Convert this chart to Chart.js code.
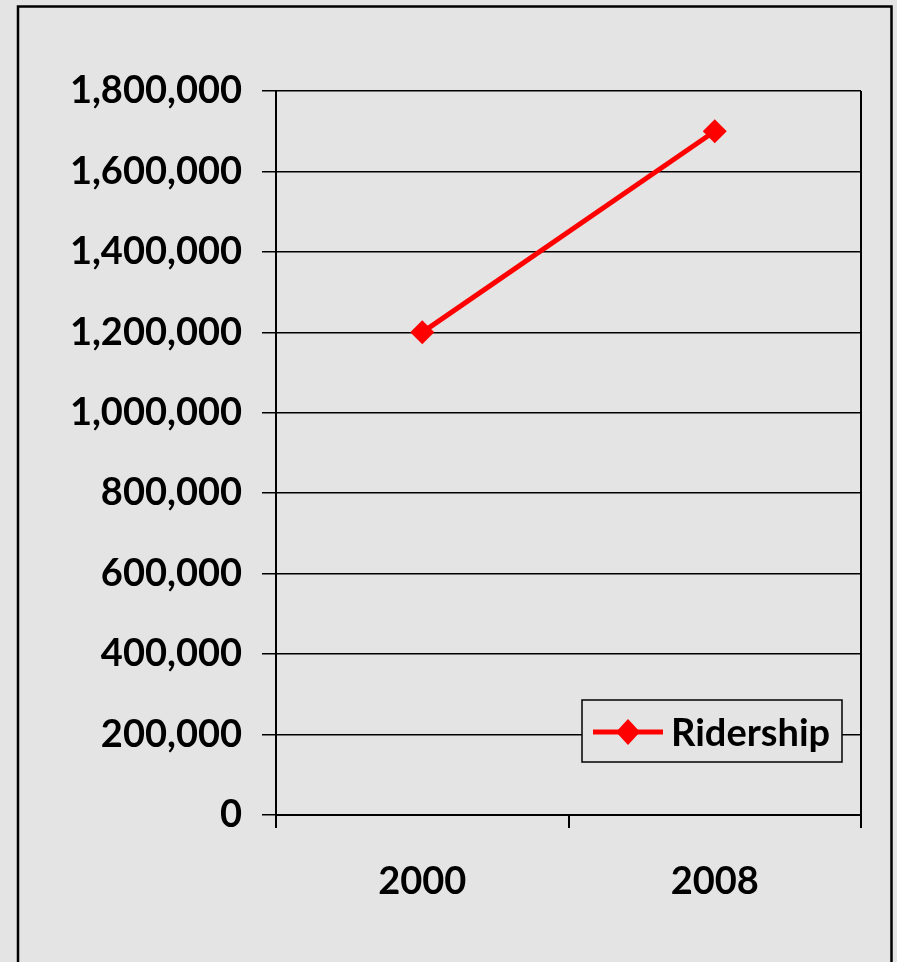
<!DOCTYPE html>
<html>
<head>
<meta charset="utf-8">
<script src="https://cdn.jsdelivr.net/npm/chart.js@4/dist/chart.umd.min.js"></script>
<style>
  html, body { margin: 0; padding: 0; background: #e4e4e4; overflow: hidden; }
  #wrap { position: absolute; left: 0; top: 0; width: 897px; height: 962px; }
</style>
</head>
<body>
<div id="wrap"><canvas id="chart-1" width="897" height="962"></canvas></div>
<script>
const years = ['2000', '2008'];
const ridership = [1200000, 1700000];
const seriesName = 'Ridership';
const yMin = 0;
const yMax = 1800000;
const yStep = 200000;

const bg = '#e4e4e4';
const fontFamily = 'Lato, "Open Sans", sans-serif';

// frame + plot right edge
const framePlugin = {
    id: 'frame',
    beforeDraw(chart) {
        const ctx = chart.ctx;
        ctx.save();
        ctx.fillStyle = bg;
        ctx.fillRect(0, 0, chart.width, chart.height);
        ctx.strokeStyle = '#000';
        ctx.lineWidth = 2.5;
        ctx.beginPath();
        ctx.moveTo(18, chart.height + 5);
        ctx.lineTo(18, 6.5);
        ctx.lineTo(891.5, 6.5);
        ctx.lineTo(891.5, chart.height + 5);
        ctx.stroke();
        ctx.restore();
    },
    afterDraw(chart) {
        const ctx = chart.ctx;
        const area = chart.chartArea;
        ctx.save();
        ctx.strokeStyle = '#000';
        ctx.lineWidth = 2;
        ctx.beginPath();
        ctx.moveTo(area.right, area.top);
        ctx.lineTo(area.right, area.bottom);
        ctx.stroke();
        ctx.restore();
    }
};

// legend box inside the plot, lower right
const boxLegend = {
    id: 'boxLegend',
    afterDraw(chart) {
        const ctx = chart.ctx;
        const area = chart.chartArea;
        const ds = chart.data.datasets[0];
        const x = area.right - 279, y = 700, w = 260, h = 62;
        ctx.save();
        ctx.fillStyle = bg;
        ctx.fillRect(x, y, w, h);
        ctx.strokeStyle = '#000';
        ctx.lineWidth = 1.5;
        ctx.strokeRect(x, y, w, h);
        const cy = y + 32;
        ctx.strokeStyle = ds.borderColor;
        ctx.lineWidth = 5;
        ctx.beginPath();
        ctx.moveTo(x + 11, cy);
        ctx.lineTo(x + 81, cy);
        ctx.stroke();
        ctx.fillStyle = ds.pointBackgroundColor;
        ctx.beginPath();
        ctx.moveTo(x + 46 - 12, cy);
        ctx.lineTo(x + 46, cy - 13);
        ctx.lineTo(x + 46 + 12, cy);
        ctx.lineTo(x + 46, cy + 13);
        ctx.closePath();
        ctx.fill();
        ctx.fillStyle = '#000';
        ctx.font = 'bold 38px ' + fontFamily;
        ctx.textBaseline = 'middle';
        ctx.fillText(ds.label, x + 89, cy + 2);
        ctx.restore();
    }
};

new Chart(document.querySelector('#chart-1'), {
    type: 'line',
    data: {
        labels: years,
        datasets: [{
            label: seriesName,
            data: ridership,
            borderColor: '#ff0000',
            backgroundColor: '#ff0000',
            pointBackgroundColor: '#ff0000',
            pointBorderColor: '#ff0000',
            borderWidth: 5,
            pointStyle: 'rectRot',
            pointRadius: 12,
            pointBorderWidth: 0,
            tension: 0
        }]
    },
    options: {
        responsive: false,
        animation: false,
        devicePixelRatio: 1,
        layout: { padding: { top: 91, right: 36, left: 0, bottom: 0 } },
        plugins: {
            legend: { display: false },
            tooltip: { enabled: false }
        },
        scales: {
            x: {
                offset: true,
                afterFit: scale => { scale.height = 147; },
                grid: {
                    offset: true,
                    drawOnChartArea: false,
                    color: '#000',
                    lineWidth: 2,
                    tickLength: 13
                },
                border: { color: '#000', width: 2 },
                ticks: {
                    color: '#000',
                    padding: 31,
                    font: { family: fontFamily, size: 38, weight: 'bold' }
                }
            },
            y: {
                min: yMin,
                max: yMax,
                afterFit: scale => { scale.width = 276; },
                grid: {
                    color: '#000',
                    lineWidth: 1.5,
                    tickLength: 14
                },
                border: { color: '#000', width: 2 },
                ticks: {
                    stepSize: yStep,
                    color: '#000',
                    padding: 20,
                    font: { family: fontFamily, size: 38, weight: 'bold' },
                    callback: v => v.toLocaleString('en-US')
                }
            }
        }
    },
    plugins: [framePlugin, boxLegend]
});
</script>
</body>
</html>
